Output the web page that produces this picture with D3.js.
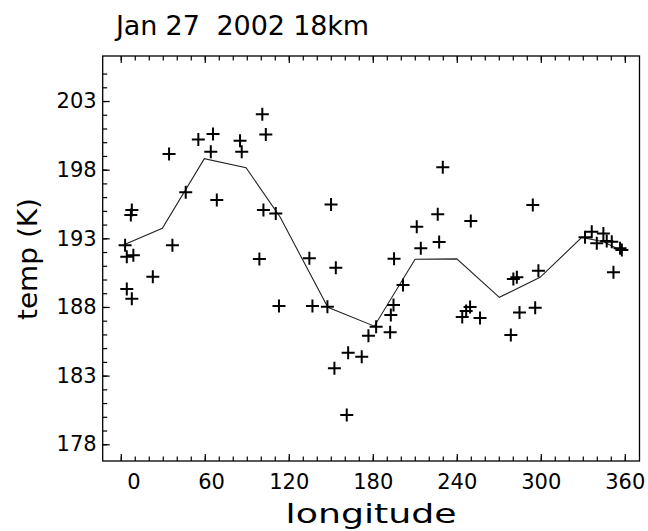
<!DOCTYPE html>
<html>
<head>
<meta charset="utf-8">
<script src="https://cdn.jsdelivr.net/npm/d3@7"></script>
<style>
  html, body { margin: 0; padding: 0; background: #fff; }
  svg { display: block; font-family: "DejaVu Sans", sans-serif; }
</style>
</head>
<body>
<svg id="chart" width="648" height="531"></svg>
<script>
// Individual soundings: longitude (deg) and temperature (K)
const obsLon = [
  3.1, 4.3, 9.0, 4.3, 7.9, 7.9, 7.2, 22.9, 36.9, 46.4, 68.6, 99.0, 101.9, 110.7, 113.0,
  34.5, 55.4, 65.9, 64.3, 85.2, 86.4, 101.1, 103.6, 230.0, 150.2, 134.7, 153.6, 136.9,
  147.6, 182.4, 195.2, 201.6, 194.8, 192.9, 211.4, 226.4, 214.3, 227.4, 250.0, 243.9,
  246.7, 249.5, 256.6, 294.3, 280.4, 282.9, 298.3, 284.8, 296.0, 278.6, 331.6, 336.4,
  340.0, 344.7, 347.1, 350.7, 356.6, 357.9, 351.9, 176.9, 192.4, 162.4, 172.1, 152.6, 161.4
];
const obsTemp = [
  192.5, 191.66, 191.76, 189.3, 188.6, 195.06, 194.7, 190.2, 192.5, 196.35, 195.8, 191.5, 195.06, 194.8, 188.07,
  199.14, 200.2, 200.6, 199.3, 200.1, 199.3, 202.03, 200.57, 198.17, 195.47, 191.54, 190.86, 188.07,
  188.02, 186.56, 191.51, 189.6, 188.14, 187.41, 193.85, 194.75, 192.27, 192.73, 194.26, 187.27,
  187.7, 188.0, 187.2, 195.43, 190.04, 190.16, 190.64, 187.6, 187.95, 185.96, 193.07, 193.48,
  192.64, 193.36, 192.8, 192.75, 192.27, 192.15, 190.52, 185.9, 186.15, 184.67, 184.38, 183.53, 180.13
];

// Binned mean curve
const meanLon  = [3.1, 29.7, 59.7, 89.5, 113.8, 147.9, 181.1, 210.2, 240.0, 270.4, 299.5, 329.3, 344.7, 356.6];
const meanTemp = [192.56, 193.73, 198.8, 198.14, 194.55, 187.97, 186.6, 191.47, 191.5, 188.7, 190.16, 193.07, 192.75, 192.15];

// Axis ticks and labels
const xMajorTicks = [0, 60, 120, 180, 240, 300, 360];
const xMinorTicks = d3.range(0, 361, 10);
const yMajorTicks = [178, 183, 188, 193, 198, 203];
const yMinorTicks = d3.range(178, 206, 1);

const titleText = "Jan 27  2002 18km";
const xTitle = "longitude";
const yTitle = "temp (K)";

const svg = d3.select("#chart");
const L = 102.7, R = 639.5, T = 56, B = 461;

const x = d3.scaleLinear().domain([-12.9, 370.5]).range([L, R]);
const y = d3.scaleLinear().domain([176.78, 206.28]).range([B, T]);

const tickFont = 21;

// bottom axis: minor then major ticks, pointing inward
svg.append("g").attr("transform", `translate(0,${B})`)
  .call(d3.axisBottom(x).tickValues(xMinorTicks).tickSize(-4.5).tickFormat(""))
  .call(g => g.select(".domain").remove());
const xb = svg.append("g").attr("transform", `translate(0,${B})`)
  .call(d3.axisBottom(x).tickValues(xMajorTicks).tickSize(-7).tickPadding(13).tickFormat(d => String(d)))
  .call(g => g.select(".domain").remove());
xb.selectAll("text")
  .attr("font-size", tickFont).attr("font-family", "DejaVu Sans, sans-serif").attr("fill", "#000")
  .attr("dx", d => (3 - String(d).length) * 6.35);

// top axis ticks
svg.append("g").attr("transform", `translate(0,${T})`)
  .call(d3.axisTop(x).tickValues(xMinorTicks).tickSize(-4.5).tickFormat(""))
  .call(g => g.select(".domain").remove());
svg.append("g").attr("transform", `translate(0,${T})`)
  .call(d3.axisTop(x).tickValues(xMajorTicks).tickSize(-7).tickFormat(""))
  .call(g => g.select(".domain").remove());

// left axis
svg.append("g").attr("transform", `translate(${L},0)`)
  .call(d3.axisLeft(y).tickValues(yMinorTicks).tickSize(-4.5).tickFormat(""))
  .call(g => g.select(".domain").remove());
const yl = svg.append("g").attr("transform", `translate(${L},0)`)
  .call(d3.axisLeft(y).tickValues(yMajorTicks).tickSize(-7).tickPadding(6).tickFormat(d => String(d)))
  .call(g => g.select(".domain").remove());
yl.selectAll("text")
  .attr("font-size", tickFont).attr("font-family", "DejaVu Sans, sans-serif").attr("fill", "#000");

svg.selectAll(".tick line").attr("stroke", "#000").attr("stroke-width", 1.2);

// plot frame
svg.append("rect")
  .attr("x", L).attr("y", T).attr("width", R - L).attr("height", B - T)
  .attr("fill", "none").attr("stroke", "#000").attr("stroke-width", 1.3);

// mean curve
const line = d3.line().x((d, i) => x(meanLon[i])).y(d => y(d));
svg.append("path")
  .datum(meanTemp)
  .attr("d", line)
  .attr("fill", "none")
  .attr("stroke", "#222")
  .attr("stroke-width", 1.1);

// observation crosses
const cross = "M-6.5,0H6.5M0,-6.5V6.5";
svg.append("g").selectAll("path")
  .data(obsTemp)
  .join("path")
  .attr("transform", (d, i) => `translate(${x(obsLon[i])},${y(d)})`)
  .attr("d", cross)
  .attr("stroke", "#000")
  .attr("stroke-width", 2)
  .attr("fill", "none");

// titles
svg.append("text")
  .attr("x", 116).attr("y", 35)
  .attr("font-size", 27)
  .attr("textLength", 253).attr("lengthAdjust", "spacing")
  .style("white-space", "pre")
  .attr("fill", "#000")
  .text(titleText);

svg.append("text")
  .attr("x", (L + R) / 2).attr("y", 523)
  .attr("text-anchor", "middle")
  .attr("font-size", 26)
  .attr("textLength", 171).attr("lengthAdjust", "spacingAndGlyphs")
  .attr("fill", "#000")
  .text(xTitle);

svg.append("text")
  .attr("transform", `translate(37,259) rotate(-90)`)
  .attr("text-anchor", "middle")
  .attr("font-size", 26)
  .attr("textLength", 122).attr("lengthAdjust", "spacingAndGlyphs")
  .attr("fill", "#000")
  .text(yTitle);
</script>
</body>
</html>
